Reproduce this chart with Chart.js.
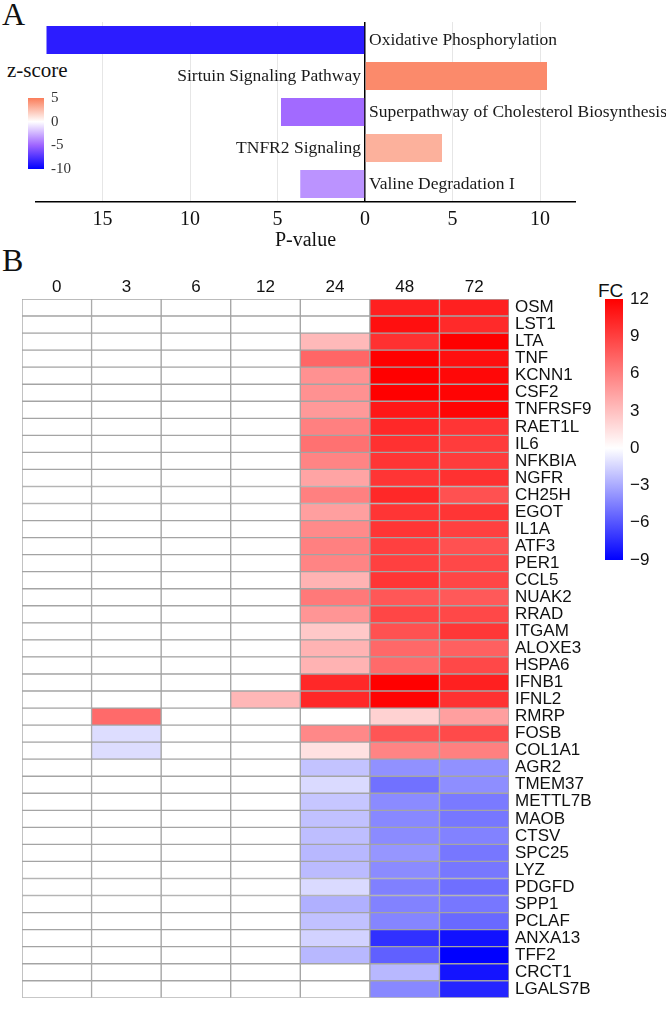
<!DOCTYPE html>
<html><head><meta charset="utf-8">
<script src="https://cdn.jsdelivr.net/npm/chart.js@4"></script>
<style>
html,body{margin:0;padding:0;background:#fff;}
body{width:666px;height:1014px;position:relative;overflow:hidden;}
canvas{position:absolute;}
.lbl{position:absolute;color:#111;white-space:nowrap;line-height:1;}
</style></head><body>
<div class="lbl" style="left:2px;top:-2px;font-family:'Liberation Serif',serif;font-size:32px;">A</div>
<div class="lbl" style="left:2px;top:244px;font-family:'Liberation Serif',serif;font-size:32px;">B</div>
<div class="lbl" style="left:7px;top:60px;font-family:'Liberation Serif',serif;font-size:21px;">z-score</div>
<div class="lbl" style="left:598px;top:281px;font-family:'Liberation Sans',sans-serif;font-size:19px;">FC</div>
<canvas id="cA" width="666" height="260" style="left:0;top:0"></canvas>
<canvas id="cZ" width="62" height="103" style="left:14px;top:82px"></canvas>
<canvas id="cB" width="600" height="764" style="left:0;top:250px"></canvas>
<canvas id="cF" width="72" height="301" style="left:591px;top:279px"></canvas>
<script>
// ---------- Panel A data ----------
const pathways = ['Oxidative Phosphorylation','Sirtuin Signaling Pathway','Superpathway of Cholesterol Biosynthesis','TNFR2 Signaling','Valine Degradation I'];
const pValues = [18.2, 10.4, 4.8, 4.4, 3.7];
const zScores = [-8.6, 4.5, -4.8, 3.0, -3.5];
const pTicks = [-15, -10, -5, 0, 5, 10];
const zRange = [-10, 5];
const zTicks = [-10, -5, 0, 5];

// ---------- Panel B data ----------
const timeLabels = ['0','3','6','12','24','48','72'];
const genes = ['OSM','LST1','LTA','TNF','KCNN1','CSF2','TNFRSF9','RAET1L','IL6','NFKBIA','NGFR','CH25H','EGOT','IL1A','ATF3','PER1','CCL5','NUAK2','RRAD','ITGAM','ALOXE3','HSPA6','IFNB1','IFNL2','RMRP','FOSB','COL1A1','AGR2','TMEM37','METTL7B','MAOB','CTSV','SPC25','LYZ','PDGFD','SPP1','PCLAF','ANXA13','TFF2','CRCT1','LGALS7B'];
const fc0  = [0,0,0,0,0,0,0,0,0,0,0,0,0,0,0,0,0,0,0,0,0,0,0,0,0,0,0,0,0,0,0,0,0,0,0,0,0,0,0,0,0];
const fc3  = [0,0,0,0,0,0,0,0,0,0,0,0,0,0,0,0,0,0,0,0,0,0,0,0,7,-1.2,-1.2,0,0,0,0,0,0,0,0,0,0,0,0,0,0];
const fc6  = [0,0,0,0,0,0,0,0,0,0,0,0,0,0,0,0,0,0,0,0,0,0,0,0,0,0,0,0,0,0,0,0,0,0,0,0,0,0,0,0,0];
const fc12 = [0,0,0,0,0,0,0,0,0,0,0,0,0,0,0,0,0,0,0,0,0,0,0,3.4,0,0,0,0,0,0,0,0,0,0,0,0,0,0,0,0,0];
const fc24 = [0,0,3.3,7.2,5.2,5.2,4.8,6,6.7,5.8,4.3,6,4.5,5.5,6,5.8,3.6,6.3,5,2.6,3.6,3.6,10.1,10.1,0,5.6,1.4,-2.1,-1.3,-2.0,-2.2,-2.3,-2.5,-2.4,-1.3,-2.8,-2.2,-1.6,-2.5,0,0];
const fc48 = [10.5,11.3,9.7,12,12,12,10.9,10.1,9.7,9.5,9.5,10.1,9.5,9.5,9,9,9.5,7.9,8.7,8.2,7.1,7,12,11.8,2.1,8,5.8,-3.9,-5.0,-4.1,-4.2,-4.1,-3.7,-4.1,-4.5,-4.4,-4.3,-7.3,-5.6,-2.5,-4.2];
const fc72 = [10.5,10,12,11.3,11.6,11.8,11.8,9.5,9.2,9.2,9.7,8.2,9.5,9,8.2,8.6,8.7,7.8,8.6,9.4,7.5,8.6,10.5,9.7,4.5,8.5,6,-3.9,-4.0,-4.7,-4.8,-4.4,-4.8,-4.8,-5.1,-4.8,-5.3,-8.4,-9,-8.3,-7.7];
const fcRange = [-9, 12];

// ---------- helpers ----------
const SERIF = "'Liberation Serif', 'Times New Roman', serif";
const SANS = "'Liberation Sans', Arial, sans-serif";
const zStops = [[-10,[0,0,255]],[-5,[158,100,255]],[0,[255,255,255]],[5,[250,125,90]]];
function zColor(z){
  for(let i=0;i<zStops.length-1;i++){
    const [a,ca]=zStops[i],[b,cb]=zStops[i+1];
    if(z<=b || i===zStops.length-2){
      const t=Math.max(0,Math.min(1,(z-a)/(b-a)));
      const c=ca.map((v,k)=>Math.round(v+(cb[k]-v)*t));
      return `rgb(${c[0]},${c[1]},${c[2]})`;
    }
  }
}
function fcColor(v){
  if(v>=0){const t=Math.min(v/fcRange[1],1);const g=Math.round(255*(1-t));return `rgb(255,${g},${g})`;}
  const t=Math.min(v/fcRange[0],1);const r=Math.round(255*(1-t));return `rgb(${r},${r},255)`;
}
Chart.defaults.animation=false;
Chart.defaults.plugins.legend.display=false;
Chart.defaults.plugins.tooltip.enabled=false;

// ---------- Panel A ----------
const signed = pValues.map((p,i)=>zScores[i]<0?-p:p);
const barLabels = {
  id:'barLabels',
  afterDatasetsDraw(chart){
    const {ctx, scales:{x}} = chart;
    const meta = chart.getDatasetMeta(0);
    const x0 = x.getPixelForValue(0);
    ctx.save();
    ctx.font = "17.5px " + SERIF;
    ctx.fillStyle = '#1a1a1a';
    ctx.textBaseline = 'middle';
    meta.data.forEach((bar,i)=>{
      const v = chart.data.datasets[0].data[i];
      if(v<0){ctx.textAlign='left';ctx.fillText(pathways[i], x0+4, bar.y);}
      else{ctx.textAlign='right';ctx.fillText(pathways[i], x0-4, bar.y);}
    });
    ctx.restore();
  }
};
new Chart(document.getElementById('cA'), {
  type:'bar',
  data:{labels:pathways, datasets:[{data:signed, backgroundColor:zScores.map(zColor), barPercentage:0.78, categoryPercentage:1}]},
  options:{
    responsive:false, indexAxis:'y',
    layout:{padding:{left:36,right:91,top:22,bottom:0}},
    scales:{
      x:{min:-18.8,max:12,
        afterBuildTicks:s=>{s.ticks=pTicks.map(v=>({value:v}));},
        ticks:{callback:v=>Math.abs(v),font:{family:SERIF,size:20},color:'#111',padding:6,maxRotation:0},
        grid:{color:c=>(c.tick&&c.tick.value===0)?'#000':'#E6E6E6',lineWidth:c=>(c.tick&&c.tick.value===0)?1.5:1,drawTicks:false},
        border:{display:true,color:'#000',width:1.5},
        title:{display:true,text:'P-value',font:{family:SERIF,size:20},color:'#111',padding:{top:0,bottom:7}},
        afterFit:s=>{s.height=58;}
      },
      y:{display:false}
    }
  },
  plugins:[barLabels]
});

// ---------- z-score colour bar ----------
new Chart(document.getElementById('cZ'), {
  type:'bar',
  data:{labels:[''], datasets:[{data:[zRange], barPercentage:1, categoryPercentage:1,
    backgroundColor:(c)=>{const ch=c.chart; if(!ch.chartArea) return null; const y=ch.scales.y;
      const g=ch.ctx.createLinearGradient(0,y.getPixelForValue(zRange[0]),0,y.getPixelForValue(zRange[1]));
      zStops.forEach(([v,col])=>g.addColorStop((v-zRange[0])/(zRange[1]-zRange[0]),`rgb(${col.join(',')})`));
      return g;}}]},
  options:{responsive:false, layout:{padding:{left:14,top:10,bottom:10,right:0}},
    scales:{x:{display:false},
      y:{position:'right',min:zRange[0],max:zRange[1],afterBuildTicks:s=>{s.ticks=zTicks.map(v=>({value:v}));},
        ticks:{font:{family:SERIF,size:15},color:'#333',padding:7},grid:{display:false,drawTicks:false},border:{display:false},
        afterFit:s=>{s.width=32;}}}}
});

// ---------- Panel B heatmap ----------
const fcCols = [fc0,fc3,fc6,fc12,fc24,fc48,fc72];
new Chart(document.getElementById('cB'), {
  type:'bar',
  data:{labels:genes, datasets:fcCols.map((col,c)=>({
    label:timeLabels[c], data:genes.map(()=>1), backgroundColor:col.map(fcColor),
    borderColor:'#A4A4A4', borderWidth:1, borderSkipped:false, barPercentage:1, categoryPercentage:1}))},
  options:{responsive:false, indexAxis:'y',
    layout:{padding:{left:22,right:0,top:0,bottom:1}},
    scales:{
      x:{stacked:true,position:'top',min:0,max:timeLabels.length,
        afterBuildTicks:s=>{s.ticks=timeLabels.map((t,i)=>({value:i+0.5}));},
        ticks:{callback:(v,i)=>timeLabels[i],font:{family:SANS,size:17},color:'#111',padding:1,autoSkip:false,maxRotation:0},
        grid:{display:false,drawTicks:false},border:{display:false},
        afterFit:s=>{s.height=49;}},
      y:{stacked:true,position:'right',
        ticks:{font:{family:SANS,size:17},color:'#111',padding:6,autoSkip:false},
        grid:{display:false,drawTicks:false},border:{display:false},
        afterFit:s=>{s.width=91;}}
    }}
});

// ---------- FC colour bar ----------
new Chart(document.getElementById('cF'), {
  type:'bar',
  data:{labels:[''], datasets:[{data:[fcRange], barPercentage:1, categoryPercentage:1,
    backgroundColor:(c)=>{const ch=c.chart; if(!ch.chartArea) return null; const y=ch.scales.y;
      const g=ch.ctx.createLinearGradient(0,y.getPixelForValue(fcRange[0]),0,y.getPixelForValue(fcRange[1]));
      const zf=(0-fcRange[0])/(fcRange[1]-fcRange[0]);
      g.addColorStop(0,'rgb(0,0,255)'); g.addColorStop(zf,'rgb(255,255,255)'); g.addColorStop(1,'rgb(255,0,0)');
      return g;}}]},
  options:{responsive:false, layout:{padding:{left:14,top:20,bottom:20,right:0}},
    scales:{x:{display:false},
      y:{position:'right',min:fcRange[0],max:fcRange[1],
        ticks:{stepSize:3,callback:v=>String(v).replace('-','\u2212'),font:{family:SANS,size:17},color:'#111',padding:7},
        grid:{display:false,drawTicks:false},border:{display:false},
        afterFit:s=>{s.width=40;}}}}
});
</script>
</body></html>
